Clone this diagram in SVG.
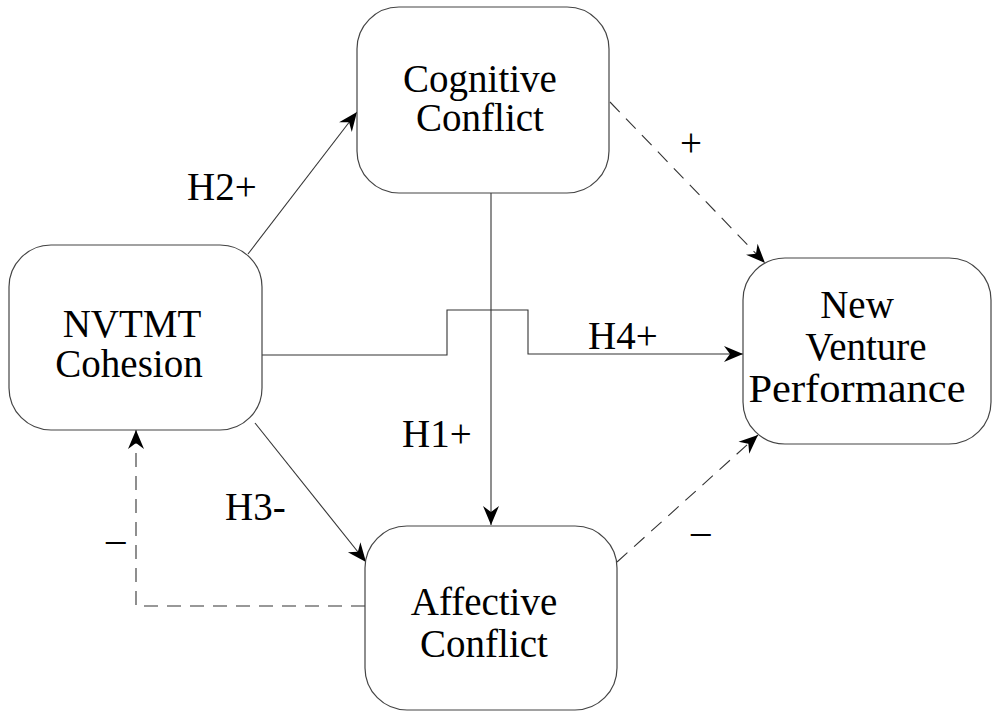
<svg xmlns="http://www.w3.org/2000/svg" width="992" height="711" viewBox="0 0 992 711">
<style>
.box{fill:#fff;stroke:#444;stroke-width:1.2}
.t{font-family:"Liberation Serif","Times New Roman",Times,serif;font-size:39px;fill:#000;text-anchor:middle}
.lbl{font-family:"Liberation Serif","Times New Roman",Times,serif;font-size:39px;fill:#000}
.ln{fill:none;stroke:#333;stroke-width:1.1}
.dash{stroke-dasharray:14 9}
</style>
<defs>
<marker id="ah" markerUnits="userSpaceOnUse" markerWidth="22" markerHeight="20" viewBox="-20 -10 21 20" refX="0" refY="0" orient="auto">
<path d="M0,0 L-19,-8 L-13,0 L-19,8 Z" fill="#000"/>
</marker>
</defs>
<rect width="992" height="711" fill="#fff"/>
<g id="connectors">
<line class="ln" x1="248" y1="254" x2="357" y2="112" marker-end="url(#ah)"/>
<line class="ln dash" x1="610" y1="102" x2="765" y2="263" marker-end="url(#ah)"/>
<line class="ln" x1="491" y1="193" x2="491" y2="525" marker-end="url(#ah)"/>
<polyline class="ln" points="262,355 447,355 447,310 528,310 528,354 743,354" marker-end="url(#ah)"/>
<line class="ln" x1="255" y1="423" x2="366" y2="562" marker-end="url(#ah)"/>
<polyline class="ln dash" points="365,606 136,606 136,430" marker-end="url(#ah)"/>
<line class="ln dash" x1="617" y1="562" x2="758" y2="435" marker-end="url(#ah)"/>
</g>
<g id="labels">
<text class="lbl" font-family="Liberation Serif, serif" x="187" y="200">H2+</text>
<text class="lbl" font-family="Liberation Serif, serif" x="680" y="156">+</text>
<text class="lbl" font-family="Liberation Serif, serif" x="402" y="447">H1+</text>
<text class="lbl" font-family="Liberation Serif, serif" x="588" y="349">H4+</text>
<text class="lbl" font-family="Liberation Serif, serif" x="225" y="520">H3-</text>
<text class="lbl" font-family="Liberation Serif, serif" x="106" y="552">–</text>
<text class="lbl" font-family="Liberation Serif, serif" x="691" y="544">–</text>
</g>
<g id="cognitive">
<rect class="box" x="357" y="7" width="252" height="186" rx="42" ry="42"/>
<text class="t" x="480" y="92">Cognitive</text>
<text class="t" x="480" y="131">Conflict</text>
</g>
<g id="cohesion">
<rect class="box" x="9" y="245" width="253" height="185" rx="42" ry="42"/>
<text class="t" x="132" y="337">NVTMT</text>
<text class="t" x="129" y="377">Cohesion</text>
</g>
<g id="performance">
<rect class="box" x="743" y="258" width="248" height="186" rx="42" ry="42"/>
<text class="t" x="857" y="318">New</text>
<text class="t" x="866" y="360">Venture</text>
<text class="t" x="857" y="402" textLength="217" lengthAdjust="spacingAndGlyphs">Performance</text>
</g>
<g id="affective">
<rect class="box" x="365" y="526" width="252" height="184" rx="42" ry="42"/>
<text class="t" x="484" y="615">Affective</text>
<text class="t" x="484" y="657">Conflict</text>
</g>
</svg>
